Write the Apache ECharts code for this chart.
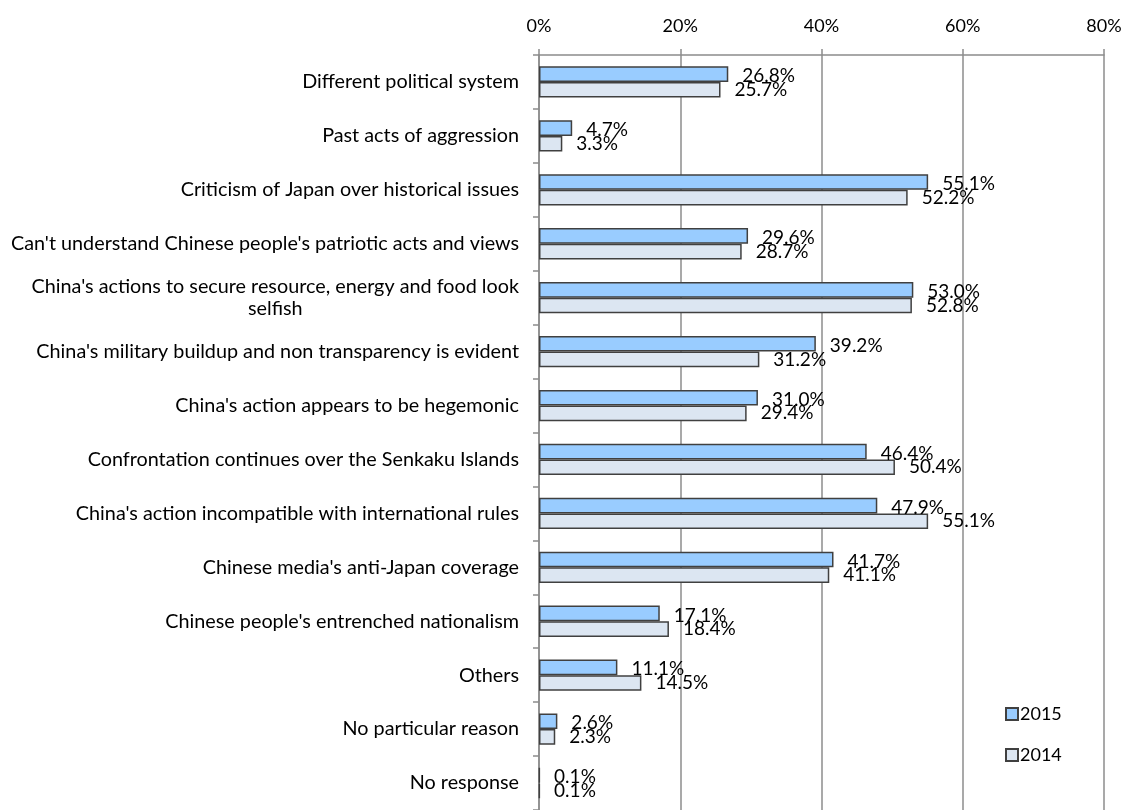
<!DOCTYPE html>
<html>
<head>
<meta charset="utf-8">
<script src="https://cdn.jsdelivr.net/npm/echarts@6/dist/echarts.min.js"></script>
<style>
  html, body { margin: 0; padding: 0; background: #fff; }
  #chart { width: 1126px; height: 810px; }
</style>
</head>
<body>
<div id="chart"></div>
<script>
// Reasons for an unfavourable impression of China (%, 2015 vs 2014)
const categories = [
  "Different political system",
  "Past acts of aggression",
  "Criticism of Japan over historical issues",
  "Can't understand Chinese people's patriotic acts and views",
  "China's actions to secure resource, energy and food look\nselfish",
  "China's military buildup and non transparency is evident",
  "China's action appears to be hegemonic",
  "Confrontation continues over the Senkaku Islands",
  "China's action incompatible with international rules",
  "Chinese media's anti-Japan coverage",
  "Chinese people's entrenched nationalism",
  "Others",
  "No particular reason",
  "No response"
];
const values2015 = [26.8, 4.7, 55.1, 29.6, 53.0, 39.2, 31.0, 46.4, 47.9, 41.7, 17.1, 11.1, 2.6, 0.1];
const values2014 = [25.7, 3.3, 52.2, 28.7, 52.8, 31.2, 29.4, 50.4, 55.1, 41.1, 18.4, 14.5, 2.3, 0.1];
const seriesNames = ["2015", "2014"];

const FONT = "Lato, 'Open Sans', sans-serif";
const TEXT = "#000";

const chart = echarts.init(document.getElementById('chart'), null, { renderer: 'canvas' });

// Two-line category names: second line centred under the first
function labelFormatter(v) {
  const lines = v.split('\n');
  if (lines.length === 1) return v;
  return '{a|' + lines[0] + '}\n{c|' + lines[1] + '}';
}

chart.setOption({
  animation: false,
  backgroundColor: '#fff',
  grid: { left: 539, right: 22, top: 55, bottom: -6, containLabel: false },
  legend: {
    orient: 'vertical',
    left: 1000,
    top: 700,
    itemWidth: 12,
    itemHeight: 12,
    itemGap: 23,
    icon: 'rect',
    textStyle: { fontFamily: FONT, fontSize: 18, color: TEXT, padding: [0, 0, 0, -3] },
    data: seriesNames
  },
  xAxis: {
    type: 'value',
    position: 'top',
    min: 0,
    max: 80,
    interval: 20,
    axisLine: { show: true, lineStyle: { color: '#8c8c8c', width: 1.5 } },
    axisTick: { show: true, length: 6, inside: false, lineStyle: { color: '#8c8c8c', width: 1.5 } },
    splitLine: { show: true, lineStyle: { color: '#8c8c8c', width: 1.5 } },
    axisLabel: {
      formatter: '{value}%',
      fontFamily: FONT, fontSize: 18, color: TEXT, margin: 20
    }
  },
  yAxis: {
    type: 'category',
    inverse: true,
    data: categories,
    axisLine: { show: true, lineStyle: { color: '#8c8c8c', width: 1.5 } },
    axisTick: { show: true, length: 6, lineStyle: { color: '#8c8c8c', width: 1.5 } },
    axisLabel: {
      fontFamily: FONT, fontSize: 19.8, color: TEXT, margin: 20,
      lineHeight: 22,
      formatter: labelFormatter,
      rich: {
        a: { fontFamily: FONT, fontSize: 19.8, color: TEXT, lineHeight: 22 },
        c: { fontFamily: FONT, fontSize: 19.8, color: TEXT, lineHeight: 22, align: 'center' }
      }
    }
  },
  series: [
    {
      name: seriesNames[0],
      type: 'bar',
      data: values2015,
      barGap: '0%',
      barCategoryGap: '42%',
      itemStyle: { color: '#99CCFF', borderColor: '#404040', borderWidth: 1.5 },
      label: {
        show: true, position: 'right', distance: 14,
        formatter: p => p.value.toFixed(1) + '%',
        fontFamily: FONT, fontSize: 19, color: TEXT, offset: [0, 2]
      }
    },
    {
      name: seriesNames[1],
      type: 'bar',
      data: values2014,
      itemStyle: { color: '#DCE6F2', borderColor: '#404040', borderWidth: 1.5 },
      label: {
        show: true, position: 'right', distance: 14,
        formatter: p => p.value.toFixed(1) + '%',
        fontFamily: FONT, fontSize: 19, color: TEXT, offset: [0, 0]
      }
    }
  ]
});
</script>
</body>
</html>
